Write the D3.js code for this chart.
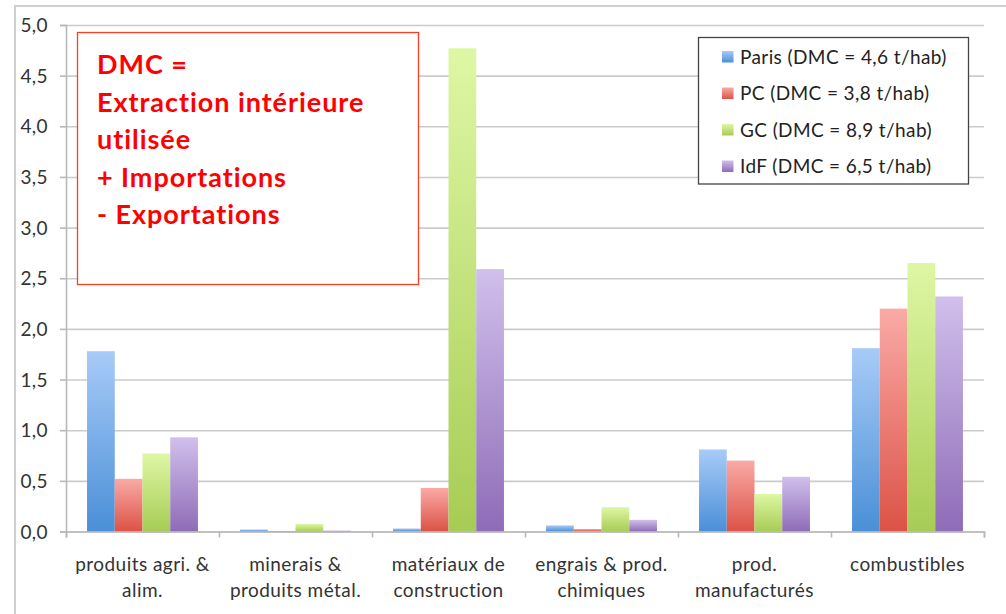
<!DOCTYPE html>
<html>
<head>
<meta charset="utf-8">
<script src="https://cdn.jsdelivr.net/npm/d3@7"></script>
<style>
  body { margin: 0; background: #fff; }
  svg { display: block; font-family: Lato, "Open Sans", sans-serif; }
</style>
</head>
<body>
<div id="chart"></div>
<script>
const categories = [
  ['produits agri. &', 'alim.'],
  ['minerais &', 'produits métal.'],
  ['matériaux de', 'construction'],
  ['engrais & prod.', 'chimiques'],
  ['prod.', 'manufacturés'],
  ['combustibles']
];
const seriesNames = ['Paris (DMC = 4,6 t/hab)', 'PC (DMC = 3,8 t/hab)', 'GC (DMC = 8,9 t/hab)', 'IdF (DMC = 6,5 t/hab)'];
const paris = [1.78, 0.02, 0.03, 0.06, 0.81, 1.81];
const pc = [0.52, 0.005, 0.43, 0.025, 0.70, 2.20];
const gc = [0.77, 0.075, 4.77, 0.24, 0.37, 2.65];
const idf = [0.93, 0.01, 2.59, 0.115, 0.54, 2.32];
const yTicks = [0, 0.5, 1, 1.5, 2, 2.5, 3, 3.5, 4, 4.5, 5];
const noteLines = ['DMC =', 'Extraction intérieure', 'utilisée', '+ Importations', '- Exportations'];

const seriesValues = [paris, pc, gc, idf];
const gradients = [
  ['#a8cbf7', '#4a8fd8'],
  ['#faaaa6', '#dc5246'],
  ['#def7a4', '#a7cc55'],
  ['#d1bfec', '#8e6cb7']
];

const W = 1006, H = 614;
const margin = { top: 25, left: 66, right: 22, bottom: 82.5 };
const innerW = W - margin.left - margin.right;
const innerH = H - margin.top - margin.bottom;

const svg = d3.select('#chart').append('svg')
  .attr('width', W).attr('height', H);

const defs = svg.append('defs');
gradients.forEach((g, i) => {
  const lg = defs.append('linearGradient')
    .attr('id', 'grad' + i)
    .attr('x1', 0).attr('y1', 0).attr('x2', 0).attr('y2', 1);
  lg.append('stop').attr('offset', '0%').attr('stop-color', g[0]);
  lg.append('stop').attr('offset', '100%').attr('stop-color', g[1]);
});

// cadre extérieur
svg.append('path')
  .attr('d', `M15,${H} L15,6 L${W},6`)
  .attr('fill', 'none').attr('stroke', '#cfcfcf').attr('stroke-width', 2);

const g = svg.append('g').attr('transform', `translate(${margin.left},${margin.top})`);

const idx = categories.map((_, i) => i);
const x0 = d3.scaleBand().domain(idx).range([0, innerW]).paddingInner(0.275).paddingOuter(0.1375);
const x1 = d3.scaleBand().domain(d3.range(seriesNames.length)).range([0, x0.bandwidth()]);
const y = d3.scaleLinear().domain([0, 5]).range([innerH, 0]);

// grille
g.append('g')
  .call(d3.axisLeft(y).tickValues(yTicks).tickSize(-innerW).tickFormat(''))
  .call(a => a.select('.domain').remove())
  .call(a => a.selectAll('line').attr('stroke', '#cbcbcb').attr('stroke-width', 1.6));

// axe Y
const yAxis = g.append('g')
  .call(d3.axisLeft(y).tickValues(yTicks).tickSize(6).tickPadding(12)
    .tickFormat(d => d3.format('.1f')(d).replace('.', ',')));
yAxis.select('.domain').attr('stroke', '#b8b8b8').attr('stroke-width', 1.6);
yAxis.selectAll('line').attr('stroke', '#b8b8b8').attr('stroke-width', 1.6);
yAxis.selectAll('text').attr('font-size', 19).attr('fill', '#333').attr('dy', '0.35em')
  .attr('letter-spacing', 0.4).attr('font-family', 'Lato, sans-serif');

// barres
const groups = g.selectAll('.grp')
  .data(idx)
  .enter().append('g')
  .attr('class', 'grp')
  .attr('transform', d => `translate(${x0(d)},0)`);

groups.selectAll('rect')
  .data(c => seriesValues.map((s, si) => ({ si, v: s[c] })))
  .enter().append('rect')
  .attr('x', d => x1(d.si))
  .attr('width', x1.bandwidth())
  .attr('y', d => y(d.v))
  .attr('height', d => innerH - y(d.v))
  .attr('fill', d => `url(#grad${d.si})`);

// axe X
const xAxisScale = d3.scaleBand().domain(idx).range([0, innerW]);
const xAxis = g.append('g')
  .attr('transform', `translate(0,${innerH})`)
  .call(d3.axisBottom(d3.scalePoint().domain(d3.range(categories.length + 1)).range([0, innerW]))
    .tickSize(6).tickFormat(''));
xAxis.select('.domain').attr('stroke', '#b8b8b8').attr('stroke-width', 1.6);
xAxis.selectAll('line').attr('stroke', '#b8b8b8').attr('stroke-width', 1.6);

const labels = g.append('g').attr('transform', `translate(0,${innerH})`);
labels.selectAll('text')
  .data(idx)
  .enter().append('text')
  .attr('x', d => xAxisScale(d) + xAxisScale.bandwidth() / 2)
  .attr('y', 39)
  .attr('text-anchor', 'middle')
  .attr('font-size', 19)
  .attr('letter-spacing', 0.45)
  .attr('fill', '#333')
  .each(function (d) {
    categories[d].forEach((line, li) => {
      d3.select(this).append('tspan')
        .attr('x', xAxisScale(d) + xAxisScale.bandwidth() / 2)
        .attr('dy', li === 0 ? 0 : 26)
        .text(line);
    });
  });

// encadré DMC
const note = svg.append('g');
note.append('rect')
  .attr('x', 77.5).attr('y', 32.5).attr('width', 341).attr('height', 252)
  .attr('fill', '#fff').attr('stroke', '#ff3b22').attr('stroke-width', 1.3);
note.selectAll('text')
  .data(noteLines)
  .enter().append('text')
  .attr('x', 97)
  .attr('y', (d, i) => 74 + i * 37.5)
  .attr('font-size', 27)
  .attr('letter-spacing', 0.95)
  .attr('font-weight', 'bold')
  .attr('fill', '#ff0000')
  .text(d => d);

// légende
const legend = svg.append('g');
legend.append('rect')
  .attr('x', 698.5).attr('y', 37.5).attr('width', 270).attr('height', 146.5)
  .attr('fill', '#fff').attr('stroke', '#444').attr('stroke-width', 1.3);
const items = legend.selectAll('.item')
  .data(seriesNames)
  .enter().append('g')
  .attr('transform', (d, i) => `translate(722,${51 + i * 36.5})`);
items.append('rect')
  .attr('width', 11.5).attr('height', 11.5)
  .attr('fill', (d, i) => `url(#grad${i})`);
items.append('text')
  .attr('x', 18).attr('y', 6).attr('dy', '0.35em')
  .attr('font-size', 19).attr('letter-spacing', 0.4).attr('fill', '#222')
  .text(d => d);
</script>
</body>
</html>
